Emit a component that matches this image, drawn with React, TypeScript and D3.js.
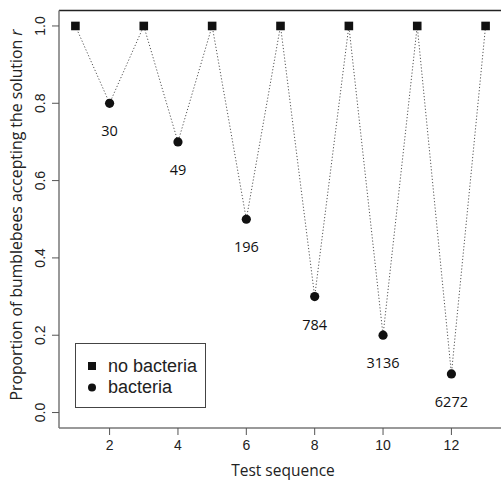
import React from "react";
import * as d3 from "d3";

const trials = [1, 2, 3, 4, 5, 6, 7, 8, 9, 10, 11, 12, 13];
const proportions = [1, 0.8, 1, 0.7, 1, 0.5, 1, 0.3, 1, 0.2, 1, 0.1, 1];
const conditions = ["none", "bact", "none", "bact", "none", "bact", "none", "bact", "none", "bact", "none", "bact", "none"];
const bacteriaLabels = ["30", "49", "196", "784", "3136", "6272"];
const xTicks = [2, 4, 6, 8, 10, 12];
const yTicks = [0, 0.2, 0.4, 0.6, 0.8, 1.0];
const legendLabels = ["no bacteria", "bacteria"];

const W = 501;
const H = 480;
const left = 59;
const right = 502;
const top = 10.5;
const bottom = 428;

export default function App() {
  const x = d3.scaleLinear().domain([0.52, 13.48]).range([left, right]);
  const y = d3.scaleLinear().domain([-0.04, 1.04]).range([bottom, top]);
  const line = d3
    .line<number>()
    .x((_, i) => x(trials[i]))
    .y((d) => y(d));
  const bactIdx = trials.map((_, i) => i).filter((i) => conditions[i] === "bact");
  const noneIdx = trials.map((_, i) => i).filter((i) => conditions[i] === "none");
  const titleFont = "'Open Sans', sans-serif";
  const axisFont = "'Liberation Sans', Arial, sans-serif";
  return (
    <svg
      width={W}
      height={H}
      style={{ position: "absolute", left: 0, top: 0, background: "#fff" }}
    >
      <path d={line(proportions) || ""} fill="none" stroke="#555" strokeWidth={1} strokeDasharray="1.2,2" />
      {noneIdx.map((i) => (
        <rect key={"s" + i} x={x(trials[i]) - 4.3} y={y(proportions[i]) - 4.3} width={8.6} height={8.6} fill="#111" />
      ))}
      {bactIdx.map((i) => (
        <circle key={"c" + i} cx={x(trials[i])} cy={y(proportions[i])} r={4.6} fill="#111" />
      ))}
      {bactIdx.map((i, k) => (
        <text
          key={"l" + i}
          x={x(trials[i])}
          y={y(proportions[i]) + 33}
          textAnchor="middle"
          fontFamily={titleFont}
          fontSize={14.5}
          fill="#111"
        >
          {bacteriaLabels[k]}
        </text>
      ))}
      {/* box */}
      <line x1={left} x2={W} y1={top} y2={top} stroke="#222" strokeWidth={1.5} />
      <line x1={left} x2={left} y1={top} y2={bottom} stroke="#777" strokeWidth={1.5} />
      <line x1={left} x2={W} y1={bottom} y2={bottom} stroke="#777" strokeWidth={1.5} />
      {/* x axis */}
      {xTicks.map((t) => (
        <g key={"xt" + t}>
          <line x1={x(t)} x2={x(t)} y1={bottom} y2={bottom + 7} stroke="#555" />
          <text x={x(t)} y={bottom + 22} textAnchor="middle" fontFamily={axisFont} fontSize={14} fill="#222">
            {t}
          </text>
        </g>
      ))}
      {/* y axis */}
      {yTicks.map((t) => (
        <g key={"yt" + t}>
          <line x1={left - 7} x2={left} y1={y(t)} y2={y(t)} stroke="#555" />
          <text
            transform={`translate(${left - 14},${y(t)}) rotate(-90)`}
            textAnchor="middle"
            fontFamily={axisFont}
            fontSize={14}
            fill="#222"
          >
            {t.toFixed(1)}
          </text>
        </g>
      ))}
      <text x={283} y={475.5} textAnchor="middle" fontFamily={titleFont} fontSize={15.5} fill="#222">
        Test sequence
      </text>
      <text
        transform={`translate(22,215) rotate(-90)`}
        textAnchor="middle"
        fontFamily={titleFont}
        fontSize={15.8}
        fill="#222"
      >
        Proportion of bumblebees accepting the solution <tspan fontStyle="italic">r</tspan>
      </text>
      {/* legend */}
      <rect x={75.5} y={343.5} width={130} height={64} fill="#fff" stroke="#444" strokeWidth={1} />
      <rect x={88} y={362} width={8} height={8} fill="#111" />
      <text x={108} y={372} fontFamily={axisFont} fontSize={18} fill="#222">
        {legendLabels[0]}
      </text>
      <circle cx={92} cy={387.5} r={4} fill="#111" />
      <text x={108} y={393} fontFamily={axisFont} fontSize={18} fill="#222">
        {legendLabels[1]}
      </text>
    </svg>
  );
}
